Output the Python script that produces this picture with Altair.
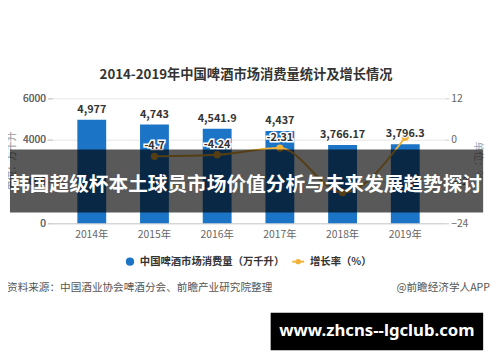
import altair as alt
import pandas as pd

years = ["2014年", "2015年", "2016年", "2017年", "2018年", "2019年"]
consumption = [4977, 4743, 4541.9, 4437, 3766.17, 3796.3]
consumption_labels = ["4,977", "4,743", "4,541.9", "4,437", "3,766.17", "3,796.3"]
growth_years = ["2015年", "2016年", "2017年", "2018年", "2019年"]
growth = [-4.7, -4.24, -2.31, -15.12, 0.8]
growth_labels = ["-4.7", "-4.24", "-2.31", "", ""]

FONT = "Noto Sans CJK SC"
BLUE = "#1b74c5"
GOLD = "#f2b33a"

df_c = pd.DataFrame({"year": years, "value": consumption, "label": consumption_labels})
df_g = pd.DataFrame({"year": growth_years, "growth": growth, "label": growth_labels})

xenc = alt.X(
    "year:N", sort=years, title=None,
    scale=alt.Scale(paddingInner=0.54, paddingOuter=0.4),
    axis=alt.Axis(labelAngle=0, ticks=False, labelPadding=6, labelFont=FONT,
                  labelFontSize=10.5, labelColor="#666", domainColor="#cccccc"),
)

bar_base = alt.Chart(df_c).encode(
    x=xenc,
    y=alt.Y("value:Q", scale=alt.Scale(domain=[0, 6000], nice=False),
            axis=alt.Axis(values=[0, 2000, 4000, 6000], format="d", title="单位：万千升",
                          orient="left", labelFont=FONT, labelFontSize=10.5,
                          labelColor="#666", tickColor="#cccccc", tickSize=5,
                          domain=False, gridColor="#e6e6e6",
                          titleFont=FONT, titleFontSize=10, titleColor="#aaaaaa",
                          titleFontWeight="normal", titleX=-36, titleY=63,
                          titleAngle=270)),
)
bars = bar_base.mark_bar(color=BLUE)
bar_text = bar_base.mark_text(baseline="bottom", dy=-5, font=FONT, fontSize=11,
                              fontWeight="bold", color="#333333").encode(text="label:N")
bar_halo = bar_base.mark_text(baseline="bottom", dy=-5, font=FONT, fontSize=11,
                              fontWeight="bold", stroke="white", strokeWidth=2,
                              color="white").encode(text="label:N")

line_base = alt.Chart(df_g).encode(
    x=alt.X("year:N", sort=years),
    y=alt.Y("growth:Q", scale=alt.Scale(domain=[-24, 12], nice=False),
            axis=alt.Axis(values=[-24, -12, 0, 12], title="单位：%", orient="right",
                          grid=False, labelFont=FONT, labelFontSize=10.5,
                          labelColor="#666", tickColor="#cccccc", tickSize=4,
                          domain=False, titleFont=FONT, titleFontSize=10,
                          titleColor="#aaaaaa", titleFontWeight="normal",
                          titleX=28, titleY=63, titleAngle=90)),
)
line = line_base.mark_line(interpolate="monotone", color=GOLD, strokeWidth=2)
pts = line_base.mark_circle(size=55, color=GOLD, opacity=1)
g_halo = line_base.mark_text(dy=-10, font=FONT, fontSize=11, fontWeight="bold",
                             stroke="white", strokeWidth=3, color="white").encode(text="label:N")
g_text = line_base.mark_text(dy=-10, font=FONT, fontSize=11, fontWeight="bold",
                             color="#333333").encode(text="label:N")

bar_layer = alt.layer(bars)
line_layer = alt.layer(line, pts, g_halo, g_text)
label_layer = alt.layer(bar_halo, bar_text)

main = alt.layer(bar_layer, line_layer, label_layer).resolve_scale(y="independent")

one = pd.DataFrame({"k": [0]})

title = alt.Chart(one).mark_text(text="2014-2019年中国啤酒市场消费量统计及增长情况",
                                 font=FONT, fontSize=13.5, fontWeight="bold",
                                 color="#333333", align="center", baseline="middle").encode(
    x=alt.value(197), y=alt.value(-24))

leg_dot = alt.Chart(one).mark_circle(size=70, color=BLUE, opacity=1).encode(
    x=alt.value(79), y=alt.value(166))
leg_txt1 = alt.Chart(one).mark_text(text="中国啤酒市场消费量（万千升）", font=FONT, fontSize=10.5,
                                    fontWeight="bold", color="#333333", align="left",
                                    baseline="middle").encode(x=alt.value(89), y=alt.value(166))
leg_line = alt.Chart(one).mark_rule(color=GOLD, strokeWidth=2).encode(
    x=alt.value(244), x2=alt.value(256), y=alt.value(166))
leg_pt = alt.Chart(one).mark_circle(size=30, color=GOLD, opacity=1).encode(
    x=alt.value(250), y=alt.value(166))
leg_txt2 = alt.Chart(one).mark_text(text="增长率（%）", font=FONT, fontSize=10.5,
                                    fontWeight="bold", color="#333333", align="left",
                                    baseline="middle").encode(x=alt.value(262), y=alt.value(166))

src = alt.Chart(one).mark_text(text="资料来源：中国酒业协会啤酒分会、前瞻产业研究院整理", font=FONT,
                               fontSize=10.8, color="#555555", align="left",
                               baseline="middle").encode(x=alt.value(-46), y=alt.value(193))
src2 = alt.Chart(one).mark_text(text="@前瞻经济学人APP", font=FONT, fontSize=10.8,
                                color="#555555", align="right",
                                baseline="middle").encode(x=alt.value(445), y=alt.value(193))

banner = alt.Chart(one).mark_rect(color="black", opacity=0.65).encode(
    x=alt.value(-43), x2=alt.value(438), y=alt.value(52), y2=alt.value(116))
banner_txt = alt.Chart(one).mark_text(text="韩国超级杯本土球员市场价值分析与未来发展趋势探讨",
                                      font=FONT, fontSize=20, fontWeight="bold", color="white",
                                      align="center", baseline="middle").encode(
    x=alt.value(197), y=alt.value(88))

wm = alt.Chart(one).mark_rect(color="black", opacity=1).encode(
    x=alt.value(222), x2=alt.value(438), y=alt.value(218), y2=alt.value(256))
wm_txt = alt.Chart(one).mark_text(text="www.zhcns--lgclub.com", font="Noto Sans", fontSize=17,
                                  fontWeight="bold", color="white", align="center",
                                  baseline="middle").encode(x=alt.value(330), y=alt.value(237))

chart = alt.layer(
    main, title, leg_dot, leg_txt1, leg_line, leg_pt, leg_txt2, src, src2,
    banner, banner_txt, wm, wm_txt,
).properties(
    width=399, height=127,
    autosize=alt.AutoSizeParams(type="none"),
    padding={"left": 45, "top": 89, "right": 48, "bottom": 130},
).configure_view(stroke=None)

chart.save("out.html", embed_options={"renderer": "svg", "actions": False})
